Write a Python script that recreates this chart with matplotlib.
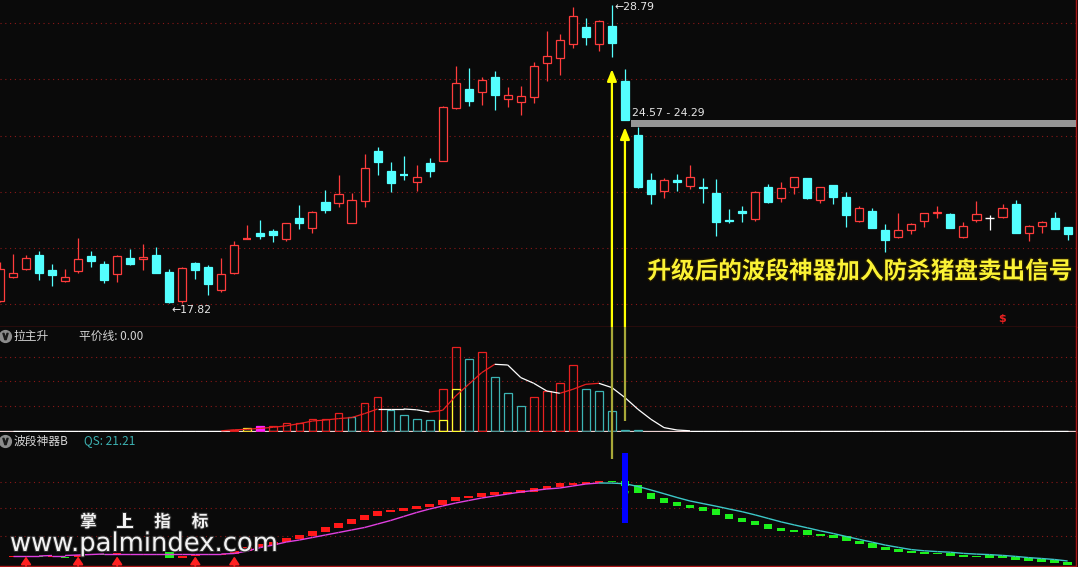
import numpy as np
import matplotlib
matplotlib.use("Agg")
import matplotlib.pyplot as plt
from matplotlib.patches import Rectangle
from matplotlib.collections import LineCollection
import matplotlib.patheffects as pe

# ---------------- daily bars (first one only partly visible) ----------------
first_bar = -1
opens = [17.90, 18.78, 19.07, 19.59, 19.04, 18.63, 19.00, 19.55, 19.26, 18.89,
         19.48, 19.44, 19.59, 18.96, 17.89, 19.29, 19.15, 18.30, 18.93, 20.18,
         20.40, 20.47, 20.18, 20.95, 20.58, 21.54, 21.50, 20.77, 21.58, 23.42,
         22.68, 22.53, 22.27, 22.97, 23.05, 25.00, 25.70, 25.59, 26.14, 25.33,
         25.22, 25.40, 26.66, 26.84, 27.35, 27.98, 27.35, 28.02, 25.99, 24.00,
         22.35, 21.94, 22.35, 22.13, 22.09, 21.87, 20.88, 21.21, 20.91, 22.09,
         21.69, 22.09, 22.42, 21.61, 22.16, 21.72, 20.84, 21.21, 20.51, 20.25,
         20.51, 20.84, 21.13, 21.10, 20.25, 20.88, 20.95, 20.99, 21.46, 20.40,
         20.66, 20.95, 20.62]
highs = [19.33, 19.62, 19.59, 19.73, 19.26, 19.07, 20.21, 19.73, 19.37, 19.59,
         19.81, 19.99, 19.88, 19.07, 19.15, 19.33, 19.22, 19.48, 20.10, 20.69,
         20.88, 20.55, 20.77, 21.43, 21.21, 21.98, 22.53, 21.87, 23.31, 23.56,
         23.01, 23.23, 22.90, 23.16, 25.07, 26.54, 26.47, 26.14, 26.36, 25.77,
         25.81, 26.69, 27.83, 27.72, 28.72, 28.31, 28.24, 28.79, 26.43, 24.29,
         22.61, 22.42, 22.57, 22.90, 22.42, 22.39, 21.28, 21.39, 21.94, 22.20,
         22.27, 22.46, 22.42, 22.09, 22.16, 21.91, 21.39, 21.32, 20.73, 21.13,
         20.77, 21.13, 21.39, 21.13, 20.80, 21.58, 21.06, 21.46, 21.61, 20.69,
         20.84, 21.17, 20.62]
lows = [17.85, 18.76, 19.04, 18.67, 18.45, 18.60, 18.93, 19.15, 18.56, 18.59,
        19.22, 19.04, 18.93, 17.82, 17.84, 18.70, 18.12, 18.23, 18.89, 20.16,
        20.18, 20.07, 20.10, 20.55, 20.40, 21.13, 21.35, 20.77, 21.35, 22.53,
        21.91, 22.35, 21.94, 22.46, 23.05, 24.96, 25.07, 25.11, 24.93, 25.04,
        24.74, 25.18, 25.99, 26.21, 27.21, 27.32, 27.10, 26.88, 24.57, 22.05,
        21.46, 21.69, 21.94, 22.02, 21.50, 20.29, 20.77, 20.80, 20.84, 21.52,
        21.54, 21.83, 21.65, 21.50, 21.46, 20.62, 20.80, 20.58, 19.70, 20.21,
        20.36, 20.62, 20.95, 20.58, 20.21, 20.80, 20.51, 20.95, 20.40, 20.10,
        20.40, 20.55, 20.14]
closes = [19.07, 18.93, 19.48, 18.93, 18.85, 18.78, 19.44, 19.37, 18.67, 19.55,
          19.26, 19.51, 18.93, 17.86, 19.11, 19.04, 18.52, 18.89, 19.96, 20.21,
          20.29, 20.32, 20.77, 20.77, 21.17, 21.24, 21.83, 21.61, 22.79, 23.01,
          22.24, 22.50, 22.46, 22.68, 25.04, 25.92, 25.26, 26.03, 25.48, 25.48,
          25.44, 26.54, 26.91, 27.50, 28.39, 27.61, 28.20, 27.39, 24.57, 22.09,
          21.83, 22.35, 22.27, 22.46, 22.05, 20.80, 20.84, 21.13, 21.91, 21.54,
          22.05, 22.46, 21.69, 22.09, 21.72, 21.06, 21.32, 20.58, 20.14, 20.51,
          20.73, 21.13, 21.17, 20.58, 20.66, 21.10, 20.95, 21.32, 20.40, 20.66,
          20.80, 20.55, 20.36]

price_grid = [17.77, 19.84, 21.91, 23.98, 26.05, 28.12]
peak_bar, trough_bar = 46, 12
gap_bar = 47                      # gap between this bar's low and the next bar's high
signal_bars = [46, 47]            # sell arrows, drawn up to the next bar's high
dollar_bar, dollar_price = 76, 17.22
headline = "升级后的波段神器加入防杀猪盘卖出信号"

# ---------------- 拉主升 panel ----------------
lzs_start = 17
lzs_bars = [1, 3, 4.5, 4.5, 7.5, 8, 11.5, 12, 17.5, 14, 27.5, 34, 20.5, 16, 12,
            10.5, 42, 84, 71.5, 79, 54, 37.5, 25, 34, 39.5, 47.5, 65.5, 42,
            39.5, 19.5, 0.5, 0.5]
# 1 = up, -1 = down, 2 = start, 3 = ignition
lzs_state = [1, 2, 3, 1, 1, 1, 1, 1, 1, -1, 1, 1, -1, -1, -1, -1, 1, 1, -1, 1,
             -1, -1, -1, 1, 1, 1, 1, -1, -1, -1, -1, -1]
lzs_hot_idx = [33, 34]
lzs_hot_val = [10.5, 42]
lzs_line = [0] * 17 + [1, 1.5, 2.5, 3.5, 5, 7.2, 9.8, 10.8, 12.2, 13.2, 17.2,
                       21.8, 21.8, 21.8, 21.0, 18.8, 20.5, 34.8, 46.5, 58.2,
                       66.5, 65.8, 53.2, 47.5, 39.8, 37.5, 41.5, 46.5, 47.5,
                       43.2, 33.2, 21.5, 11.5, 3.2, 0.8] + [0] * 30
lzs_grid = [25, 49.5, 73.5]
lzs_cut = [9.5]                    # where the second sell arrow ends

# ---------------- 波段神器B panel ----------------
qs_line = [10, 10, 10, 10.5, 10.5, 11, 11.5, 12, 12, 12, 12, 12, 12, 12, 12, 12,
           12, 12.5, 15, 18.5, 21, 24, 26, 28.5, 31, 33.5, 36, 38.5, 42, 45.5,
           49.5, 53.5, 57, 60, 63, 65.5, 68, 70, 72, 74, 75.5, 77, 78, 80, 82,
           83, 82.9, 82.3, 79.5, 76, 72.3, 68.5, 65, 62.4, 59.8, 57, 54.3, 51.1,
           47.6, 44.1, 41.1, 38.2, 35.2, 32.5, 29.5, 26.6, 23.8, 20.9, 18.6,
           16.4, 15.2, 14.4, 13.8, 12.6, 11.9, 11.4, 10.6, 9.6, 8.4, 7.5, 6.5, 5]
band_lo = [9.5, 9, 9, 9.5, 8.3, 9.3, 10.7, 10.7, 11.3, 11.5, 11.5, 11.5, 8.3, 8,
           10, 10.7, 11, 12, 15.3, 18.7, 21, 23.7, 27, 30, 34, 38, 42, 46, 50,
           54, 55.3, 57, 59.3, 61, 65, 68, 68.7, 71, 72, 72.7, 74.3, 76.7, 78.7,
           80.7, 81.7, 83, 83.7, 80.3, 72.7, 67.3, 63.3, 60, 58.3, 55.3, 51.3,
           47, 44.3, 41.3, 37, 35.3, 34.3, 31.3, 30.3, 28.3, 24.7, 22, 18, 16,
           14, 13, 12.3, 12, 10, 9, 9, 8, 8, 6.3, 5, 4, 3.3, 1]
band_hi = [10.5, 10, 10, 10.5, 9.3, 11, 12, 12, 12.7, 12.5, 12.5, 12.5, 13.7, 10,
           11, 12, 12, 15.3, 18.7, 22, 24.3, 27.7, 31, 35, 38.7, 43, 47, 51, 55,
           56.3, 58.3, 60.3, 62.3, 66, 69.3, 70.3, 72.7, 73.7, 74.3, 76, 78.3,
           80, 82.7, 83.3, 84.3, 85.3, 85, 85, 81, 73.3, 67.7, 64, 61, 59.3,
           56.7, 52, 48.3, 45.3, 42, 38.3, 36.3, 36, 32, 31.3, 29.7, 25.3, 23.3,
           19.3, 17.3, 15, 14, 13.3, 13.3, 11.3, 10.3, 11, 10, 9, 7.7, 7, 6, 4.3]
band_up = [1, 1, 0, 1, 0, 1, 1, 0, 1, 1, 1, 0, 0, 1, 1, 0, 1] + [1] * 29 + [0] * 36
buy_bars = [1, 5, 8, 14, 17]
turn_bar, turn_lo, turn_hi = 47, 43, 113
turn_mark = 72.5
qs_grid = [30, 58, 84]
qs_cut = [107]                     # where the first sell arrow ends

# ---------------- styling ----------------
W, H, DPI = 1078, 567, 100
BG = "#0a0a0a"
UP, DOWN, FLAT = "#ff3c3c", "#54ffff", "#ffffff"
GRID, FRAME = "#8a1818", "#a81818"
CJK = ["Noto Sans CJK SC", "DejaVu Sans"]
BODY_W = 0.62
x0, step, right_px = 13.0, 13.02, 1076

fig = plt.figure(figsize=(W / DPI, H / DPI), dpi=DPI, facecolor=BG)


def panel(top, bottom, share=None):
    ax = fig.add_axes([0, 1 - bottom / H, right_px / W, (bottom - top) / H],
                      sharex=share)
    ax.set_facecolor(BG)
    for side in ("top", "left"):
        ax.spines[side].set_visible(False)
    for side in ("bottom", "right"):
        ax.spines[side].set_color(FRAME)
        ax.spines[side].set_linewidth(1.0)
    ax.tick_params(left=False, bottom=False, labelleft=False, labelbottom=False)
    return ax


ax_p = panel(0, 327)
ax_m = panel(327, 432, ax_p)
ax_b = panel(432, 566, ax_p)
ax_p.set_xlim(-x0 / step, (right_px - x0) / step)

# ---------------- price panel ----------------
p_top = highs[peak_bar - first_bar] + 5 / 27.17
p_bot = p_top - 327 / 27.17
ax_p.set_ylim(p_bot, p_top)
for g in price_grid:
    ax_p.axhline(g, color=GRID, lw=0.8, ls=(0, (1, 3.3)), zorder=0)

xs = np.arange(first_bar, first_bar + len(opens))
for xi, o, h, l, c in zip(xs, opens, highs, lows, closes):
    if c > o:
        col = UP
    elif c < o:
        col = DOWN
    else:
        col = FLAT
    ax_p.vlines(xi, l, h, color=col, lw=0.9, zorder=2)
    if abs(c - o) < 0.035:
        ax_p.hlines((o + c) / 2, xi - BODY_W / 2, xi + BODY_W / 2, color=col,
                    lw=1.6 if col != FLAT else 1.0, zorder=3)
    else:
        face = BG if c > o else col
        ax_p.add_patch(Rectangle((xi - BODY_W / 2, min(o, c)), BODY_W, abs(c - o),
                                 facecolor=face, edgecolor=col, lw=0.9, zorder=3))

txt_kw = dict(color="#e6e6e6", fontsize=7.8, family="DejaVu Sans")
ax_p.annotate(f"←{highs[peak_bar - first_bar]:.2f}", (peak_bar, highs[peak_bar - first_bar]),
              xytext=(1.5, -1.5), textcoords="offset points", ha="left", va="center",
              **txt_kw)
ax_p.annotate(f"←{lows[trough_bar - first_bar]:.2f}", (trough_bar, lows[trough_bar - first_bar]),
              xytext=(1.5, -5), textcoords="offset points", ha="left", va="center",
              **txt_kw)

gap_hi = lows[gap_bar - first_bar]
gap_lo = highs[gap_bar + 1 - first_bar]
x_right = ax_p.get_xlim()[1]
ax_p.add_patch(Rectangle((gap_bar + 0.5, gap_lo), x_right - gap_bar - 0.5,
                         gap_hi - gap_lo, facecolor="#969696", edgecolor="none",
                         zorder=4))
ax_p.annotate(f"{gap_hi:.2f} - {gap_lo:.2f}", (gap_bar + 0.5, gap_hi),
              xytext=(0.5, 1.5), textcoords="offset points", ha="left",
              va="bottom", **txt_kw)

# sell arrows
for b in signal_bars:
    tip = highs[b + 1 - first_bar]
    ax_p.annotate("", xy=(b, tip), xytext=(b, p_bot),
                  arrowprops=dict(arrowstyle="-|>,head_length=0.7,head_width=0.28",
                                  color="#ffff00", lw=1.6, shrinkA=0, shrinkB=0),
                  zorder=6)

ax_p.text(dollar_bar, dollar_price, r"\$", color="#e82020", fontsize=8,
          fontweight="bold", ha="center", va="center", family="DejaVu Sans")

ax_p.text(860 / right_px, 1 - 271.5 / 327, headline, transform=ax_p.transAxes,
          ha="center", va="center", fontsize=17, fontweight="bold",
          color="#fbf235", family=CJK, zorder=8,
          path_effects=[pe.withStroke(linewidth=2, foreground="#201800")])

# ---------------- 拉主升 panel ----------------
ax_m.set_ylim(-1.2, 103.8)
for g in lzs_grid:
    ax_m.axhline(g, color=GRID, lw=0.8, ls=(0, (1, 3.3)), zorder=0)
ax_m.axhline(0, color="#ffffff", lw=0.9, zorder=1)
state_col = {1: "#e82020", -1: "#3cb4b4", 2: "#ffff30", 3: "#ff20ff"}
MW = 0.6
for k, (v, s) in enumerate(zip(lzs_bars, lzs_state)):
    xi = lzs_start + k
    col = state_col[s]
    face = col if s == 3 else "none"
    ax_m.add_patch(Rectangle((xi - MW / 2, 0), MW, v, facecolor=face,
                             edgecolor=col, lw=0.9, zorder=2))
for xi, v in zip(lzs_hot_idx, lzs_hot_val):
    ax_m.add_patch(Rectangle((xi - MW / 2, 0), MW, v, facecolor="none",
                             edgecolor=state_col[2], lw=0.9, zorder=3))

lx = np.arange(len(lzs_line))
segs = [[(lx[i - 1], lzs_line[i - 1]), (lx[i], lzs_line[i])] for i in range(1, len(lx))]
cols = ["#e82020" if lzs_line[i] > lzs_line[i - 1] else "#ffffff" for i in range(1, len(lx))]
ax_m.add_collection(LineCollection(segs, colors=cols, lw=0.9, zorder=4))

# arrow shafts running through the lower panels
ax_m.vlines(signal_bars[0], -1.2, 103.8, color="#a8a838", lw=1.6, zorder=5)
ax_m.vlines(signal_bars[1], lzs_cut[0], 103.8, color="#a8a838", lw=1.6, zorder=5)

hdr = dict(fontsize=8.5, family=CJK, va="center", ha="left")
ax_m.plot([5 / right_px], [1 - 9 / 105], transform=ax_m.transAxes, marker="o",
          ms=8.5, color="#8c8c8c", clip_on=False, zorder=9)
ax_m.plot([5 / right_px], [1 - 9 / 105], transform=ax_m.transAxes,
          marker=r"$\vee$", ms=4.5, color="#1a1a1a", clip_on=False, zorder=10)
ax_m.text(14 / right_px, 1 - 9 / 105, "拉主升", transform=ax_m.transAxes,
          color="#d4d4d4", **hdr)
ax_m.text(79 / right_px, 1 - 9 / 105, "平价线: 0.00", transform=ax_m.transAxes,
          color="#d4d4d4", **hdr)

# ---------------- 波段神器B panel ----------------
ax_b.set_ylim(0, 134)
for g in qs_grid:
    ax_b.axhline(g, color=GRID, lw=0.8, ls=(0, (1, 3.3)), zorder=0)
BW = 0.66
for xi, (lo, hi, up) in enumerate(zip(band_lo, band_hi, band_up)):
    ax_b.add_patch(Rectangle((xi - BW / 2, lo), BW, hi - lo,
                             facecolor="#ff1818" if up else "#1cf01c",
                             edgecolor="none", zorder=2))
qx = np.arange(len(qs_line))
segs = [[(qx[i - 1], qs_line[i - 1]), (qx[i], qs_line[i])] for i in range(1, len(qx))]
cols = ["#e040e0" if qs_line[i] >= qs_line[i - 1] else "#3cc8c8" for i in range(1, len(qx))]
ax_b.add_collection(LineCollection(segs, colors=cols, lw=1.0, zorder=3))

ax_b.add_patch(Rectangle((turn_bar - 0.2, turn_lo), 0.41, turn_hi - turn_lo,
                         facecolor="#0000ff", edgecolor="none", zorder=6))
ax_b.plot([turn_bar], [turn_mark], marker="v", ms=4, color="#1cc01c", zorder=5)
ax_b.vlines(signal_bars[0], qs_cut[0], 134, color="#a8a838", lw=1.6, zorder=5)

for b in buy_bars:
    ax_b.annotate("", xy=(b, 9.5), xytext=(b, 0),
                  arrowprops=dict(arrowstyle="-|>,head_length=0.45,head_width=0.3",
                                  color="#ff2020", lw=1.4, shrinkA=0, shrinkB=0),
                  zorder=7)

ax_b.plot([5 / right_px], [1 - 9 / 134], transform=ax_b.transAxes, marker="o",
          ms=8.5, color="#8c8c8c", clip_on=False, zorder=9)
ax_b.plot([5 / right_px], [1 - 9 / 134], transform=ax_b.transAxes,
          marker=r"$\vee$", ms=4.5, color="#1a1a1a", clip_on=False, zorder=10)
ax_b.text(14 / right_px, 1 - 9 / 134, "波段神器B", transform=ax_b.transAxes,
          color="#d4d4d4", **hdr)
ax_b.text(84 / right_px, 1 - 9 / 134, f"QS: {21.21:.2f}", transform=ax_b.transAxes,
          color="#3cb0b0", **hdr)

# site mark
for ch, cx in zip("掌上指标", [88.5, 125, 162.5, 200]):
    fig.text(cx / W, 1 - 522 / H, ch, ha="center", va="center", fontsize=12,
             fontweight="bold", color="#f2f2f2", family=CJK, zorder=20,
             path_effects=[pe.withStroke(linewidth=1.5, foreground="#303030")])
fig.text(10 / W, 1 - 551 / H, "www.palmindex.com", ha="left", va="baseline",
         fontsize=18.6, color="#f2f2f2", family="DejaVu Sans", zorder=20,
         path_effects=[pe.withStroke(linewidth=1.5, foreground="#303030")])

fig.savefig("out.png", dpi=DPI, facecolor=BG)
